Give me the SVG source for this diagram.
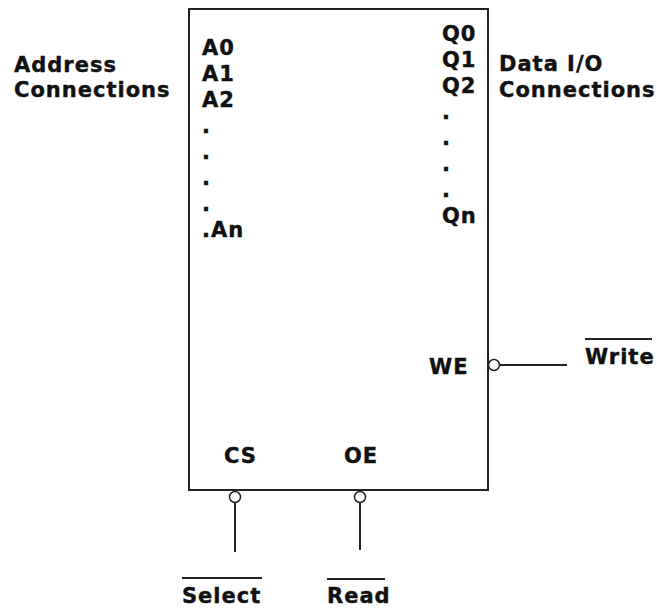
<svg xmlns="http://www.w3.org/2000/svg" width="657" height="610" viewBox="0 0 657 610">
  <style>
    text { font-family: "DejaVu Sans", Verdana, sans-serif; font-weight: bold; font-size: 21px; letter-spacing: 1px; fill: #111; stroke: #111; stroke-width: 0.4px; }
    .body { fill: #fff; stroke: #222; stroke-width: 2; }
    .wire { stroke: #222; stroke-width: 2; fill: none; }
    .bubble { fill: #fff; stroke: #222; stroke-width: 1.5; }
    .bar { stroke: #222; stroke-width: 2; }
  </style>
  <rect width="657" height="610" fill="#fff"/>

  <!-- memory chip body with pin names -->
  <g id="chip">
    <rect class="body" x="189" y="9" width="299" height="481"/>
    <text x="202" y="55">A0</text>
    <text x="202" y="81">A1</text>
    <text x="202" y="107">A2</text>
    <text x="202" y="133">.</text>
    <text x="202" y="159">.</text>
    <text x="202" y="185">.</text>
    <text x="202" y="211">.</text>
    <text x="202" y="237">.An</text>
    <text x="442" y="41">Q0</text>
    <text x="442" y="67">Q1</text>
    <text x="442" y="93">Q2</text>
    <text x="442" y="119">.</text>
    <text x="442" y="145">.</text>
    <text x="442" y="171">.</text>
    <text x="442" y="197">.</text>
    <text x="442" y="223">Qn</text>
    <text x="429" y="374">WE</text>
    <text x="224" y="463">CS</text>
    <text x="344" y="463">OE</text>
  </g>

  <g id="address-label">
    <text x="14" y="72">Address</text>
    <text x="14" y="97">Connections</text>
  </g>

  <g id="data-label">
    <text x="499" y="71">Data I/O</text>
    <text x="499" y="97">Connections</text>
  </g>

  <!-- active-low control inputs -->
  <g id="write-signal">
    <line class="bar" x1="585" y1="339" x2="652" y2="339"/>
    <text x="585" y="364">Write</text>
  </g>
  <g id="select-signal">
    <line class="bar" x1="182" y1="578" x2="262" y2="578"/>
    <text x="182" y="603">Select</text>
  </g>
  <g id="read-signal">
    <line class="bar" x1="327" y1="579" x2="385" y2="579"/>
    <text x="327" y="603">Read</text>
  </g>

  <g id="connectors">
    <line class="wire" x1="499" y1="365" x2="567" y2="365"/>
    <circle class="bubble" cx="494" cy="365" r="5.5"/>
    <line class="wire" x1="235" y1="503" x2="235" y2="552"/>
    <circle class="bubble" cx="235" cy="497" r="5.5"/>
    <line class="wire" x1="360" y1="503" x2="360" y2="550"/>
    <circle class="bubble" cx="360" cy="497" r="5.5"/>
  </g>
</svg>
